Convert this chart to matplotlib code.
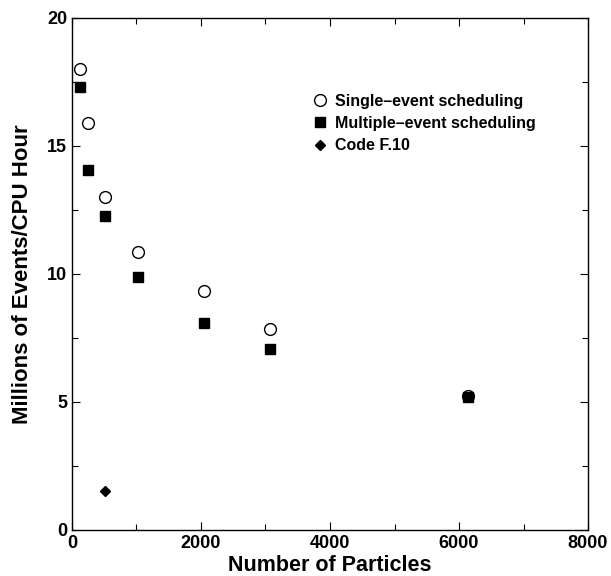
import matplotlib
matplotlib.use("Agg")
from matplotlib import pyplot as plt
from matplotlib.ticker import MultipleLocator

plt.rcParams['font.family'] = ['Liberation Sans', 'DejaVu Sans']
plt.rcParams['font.weight'] = 'bold'

# particles vs millions of events per CPU hour
single_x = [128, 256, 512, 1024, 2048, 3072, 6144]
single_y = [18.0, 15.9, 13.0, 10.85, 9.33, 7.85, 5.22]
multi_x = [128, 256, 512, 1024, 2048, 3072, 6144]
multi_y = [17.3, 14.05, 12.28, 9.88, 8.1, 7.07, 5.2]
code_x = [512]
code_y = [1.52]

fig = plt.figure(figsize=(6.11, 5.76), dpi=100)
ax = fig.add_axes([0.1178, 0.0799, 0.8446, 0.8889])

ax.plot(single_x, single_y, ls='none', marker='o', ms=8.5, mfc='white',
        mec='black', mew=1.0, label='Single\u2013event scheduling', zorder=2)
ax.plot(multi_x, multi_y, ls='none', marker='s', ms=6.8, color='black',
        label='Multiple\u2013event scheduling', zorder=3)
ax.plot(code_x, code_y, ls='none', marker='D', ms=5.5, color='black',
        label='Code F.10', zorder=3)

ax.set_xlim(0, 8000)
ax.set_ylim(0, 20)
ax.xaxis.set_major_locator(MultipleLocator(2000))
ax.xaxis.set_minor_locator(MultipleLocator(1000))
ax.yaxis.set_major_locator(MultipleLocator(5))
ax.yaxis.set_minor_locator(MultipleLocator(2.5))
ax.tick_params(which='both', direction='in', top=True, right=True,
               labelsize=13, width=0.8)
ax.tick_params(which='major', length=6)
ax.tick_params(which='minor', length=4)
for lab in ax.get_xticklabels() + ax.get_yticklabels():
    lab.set_fontweight('bold')

ax.set_xlabel('Number of Particles', fontsize=15.5, fontweight='bold', labelpad=2)
ax.set_ylabel('Millions of Events/CPU Hour', fontsize=16, fontweight='bold', labelpad=10)

ax.legend(loc='upper left', bbox_to_anchor=(0.44, 0.88), frameon=False,
          handlelength=0.8, handletextpad=0.55, labelspacing=0.45,
          prop={'weight': 'bold', 'size': 11.5})

for s in ax.spines.values():
    s.set_linewidth(1.0)

fig.savefig('out.png', dpi=100)
